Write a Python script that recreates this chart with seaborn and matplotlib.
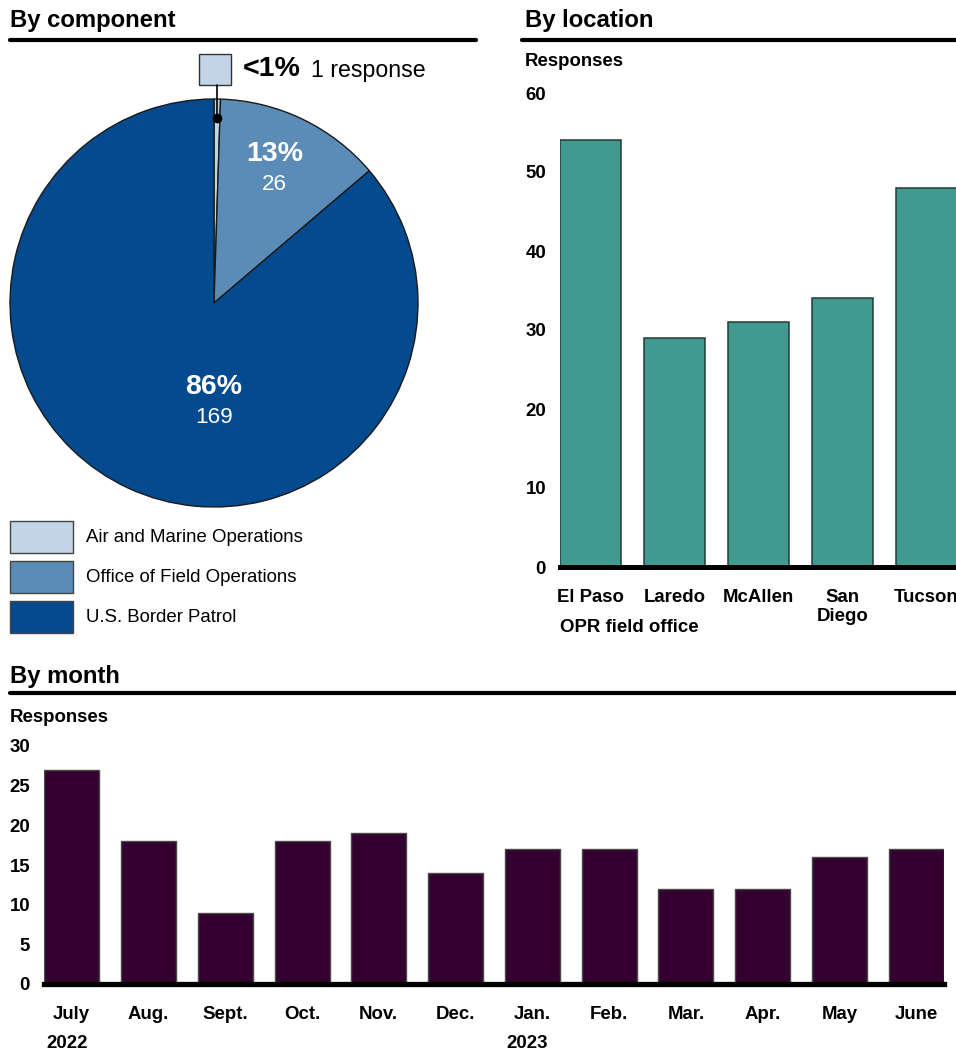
import pandas as pd
import seaborn as sns
import matplotlib.pyplot as plt
import numpy as np
from matplotlib.patches import Rectangle
from matplotlib.lines import Line2D

# datos
componentes = ["Air and Marine Operations", "Office of Field Operations", "U.S. Border Patrol"]
respuestas_comp = [1, 26, 169]
porcentajes = ["<1%", "13%", "86%"]
colores_comp = ["#c2d5e6", "#5b8bb7", "#044a8e"]

oficinas = ["El Paso", "Laredo", "McAllen", "San\nDiego", "Tucson"]
respuestas_ofi = [54, 29, 31, 34, 48]

meses = ["July", "Aug.", "Sept.", "Oct.", "Nov.", "Dec.", "Jan.", "Feb.", "Mar.", "Apr.", "May", "June"]
respuestas_mes = [27, 18, 9, 18, 19, 14, 17, 17, 12, 12, 16, 17]
anios = {"July": "2022", "Jan.": "2023"}

TEAL = "#41998f"
PURPURA = "#33002f"
FS = 13.4

sns.set_theme(style="white")
plt.rcParams["font.family"] = ["Liberation Sans", "DejaVu Sans"]
plt.rcParams["text.color"] = "black"
plt.rcParams["xtick.color"] = "black"
plt.rcParams["ytick.color"] = "black"

W, H = 956, 1052
fig = plt.figure(figsize=(W / 100, H / 100), dpi=100)


def caja(izq, arriba, der, abajo):
    return [izq / W, 1 - abajo / H, (der - izq) / W, (abajo - arriba) / H]


def titulo(texto, x, y, x0, x1, ylinea):
    fig.text(x / W, 1 - y / H, texto, fontsize=17.2, fontweight="bold", va="center", ha="left")
    fig.add_artist(Line2D([x0 / W, x1 / W], [1 - ylinea / H] * 2, color="black", lw=3, transform=fig.transFigure))


titulo("By component", 10, 20, 10, 476, 40)
titulo("By location", 525, 20, 522, 956, 40)
titulo("By month", 10, 676, 10, 956, 693)

# 1) pastel por componente
ax1 = fig.add_axes(caja(10, 99, 418, 507))
wedges, _ = ax1.pie(respuestas_comp, colors=colores_comp, startangle=90, counterclock=False,
                    wedgeprops=dict(edgecolor="#1a1a1a", linewidth=1))
ax1.set_xlim(-1, 1)
ax1.set_ylim(-1, 1)
ax1.set_aspect("equal")

w = wedges[1]
ang = np.deg2rad((w.theta1 + w.theta2) / 2)
cx, cy = 0.73 * np.cos(ang) - 0.02, 0.73 * np.sin(ang)
ax1.text(cx, cy + 0.075, porcentajes[1], color="white", fontsize=20.5, fontweight="bold", ha="center", va="center")
ax1.text(cx, cy - 0.075, str(respuestas_comp[1]), color="white", fontsize=16.2, ha="center", va="center")
ax1.text(0, -0.41, porcentajes[2], color="white", fontsize=20.5, fontweight="bold", ha="center", va="center")
ax1.text(0, -0.56, str(respuestas_comp[2]), color="white", fontsize=16.2, ha="center", va="center")

# llamada para el segmento chico
w = wedges[0]
ang = np.deg2rad((w.theta1 + w.theta2) / 2)
px, py = 0.907 * np.cos(ang), 0.907 * np.sin(ang)
ax1.plot([px, px], [py, 1.07], color="black", lw=1.2, clip_on=False)
ax1.plot(px, py, "o", color="black", ms=6, clip_on=False)
ax1.add_patch(Rectangle((-0.074, 1.07), 0.157, 0.152, facecolor=colores_comp[0],
                        edgecolor="#333333", lw=1, clip_on=False))
ax1.text(0.142, 1.145, porcentajes[0], fontsize=20.5, fontweight="bold", va="center", ha="left", clip_on=False)
ax1.text(0.475, 1.142, f"{respuestas_comp[0]} response", fontsize=16.7, va="center", ha="left", clip_on=False)

# leyenda manual
for i, (nombre, col) in enumerate(zip(componentes, colores_comp)):
    yc = 537 + 40 * i
    fig.add_artist(Rectangle((10 / W, 1 - (yc + 16) / H), 63 / W, 32 / H, facecolor=col,
                             edgecolor="#444444", lw=1, transform=fig.transFigure))
    fig.text(86 / W, 1 - yc / H, nombre, fontsize=FS, va="center", ha="left")

# 2) barras por oficina
ax2 = fig.add_axes(caja(560, 93, 956, 567))
df_ofi = pd.DataFrame({"oficina": oficinas, "respuestas": respuestas_ofi})
sns.barplot(data=df_ofi, x="oficina", y="respuestas", color=TEAL, saturation=1, width=0.726,
            edgecolor="#243a37", linewidth=1.1, ax=ax2)
ax2.set_xlim(-0.363, 4.351)
ax2.set_ylim(0, 60)
ax2.set_yticks(range(0, 61, 10))
ax2.set_xlabel("")
ax2.set_ylabel("")
for s in ["left", "right", "top"]:
    ax2.spines[s].set_visible(False)
ax2.spines["bottom"].set_linewidth(3.6)
ax2.spines["bottom"].set_color("black")
ax2.tick_params(axis="both", length=0, labelsize=FS)
ax2.tick_params(axis="y", pad=10)
ax2.tick_params(axis="x", pad=16)
plt.setp(ax2.get_xticklabels(), fontweight="bold", linespacing=1.15)
plt.setp(ax2.get_yticklabels(), fontweight="bold")
fig.text(525 / W, 1 - 62 / H, "Responses", fontsize=FS, fontweight="bold", va="center")
fig.text(560 / W, 1 - 628 / H, "OPR field office", fontsize=FS, fontweight="bold", va="center")

# 3) barras por mes
ax3 = fig.add_axes(caja(44, 746, 944, 984))
df_mes = pd.DataFrame({"mes": meses, "respuestas": respuestas_mes})
sns.barplot(data=df_mes, x="mes", y="respuestas", color=PURPURA, saturation=1, width=0.716,
            edgecolor="#4a4a4a", linewidth=1, ax=ax3)
ax3.set_xlim(-0.36, 11.36)
ax3.set_ylim(0, 30)
ax3.set_yticks(range(0, 31, 5))
ax3.set_xlabel("")
ax3.set_ylabel("")
for s in ["left", "right", "top"]:
    ax3.spines[s].set_visible(False)
ax3.spines["bottom"].set_linewidth(3.8)
ax3.spines["bottom"].set_color("black")
ax3.tick_params(axis="both", length=0, labelsize=FS)
ax3.tick_params(axis="y", pad=10)
ax3.tick_params(axis="x", pad=16)
plt.setp(ax3.get_xticklabels(), fontweight="bold")
plt.setp(ax3.get_yticklabels(), fontweight="bold")
for i, m in enumerate(meses):
    if m in anios:
        ax3.annotate(anios[m], xy=(i, 0), xytext=(-5, -60), textcoords="offset pixels",
                     fontsize=FS, fontweight="bold", ha="center", va="center", annotation_clip=False)
fig.text(10 / W, 1 - 718 / H, "Responses", fontsize=FS, fontweight="bold", va="center")

plt.savefig("out.png", dpi=100)
